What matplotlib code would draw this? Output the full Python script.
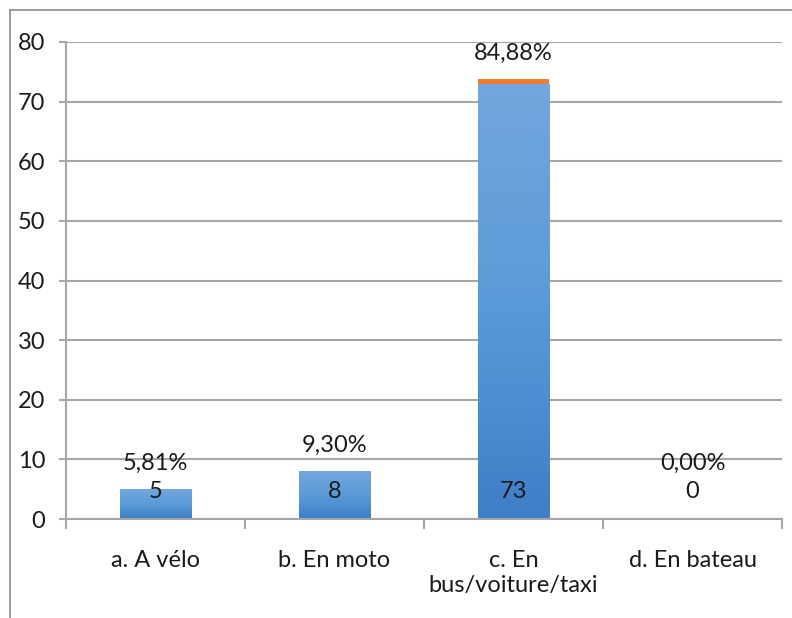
import matplotlib
matplotlib.use("Agg")
import matplotlib.pyplot as plt
import numpy as np
from matplotlib.lines import Line2D
from matplotlib.colors import LinearSegmentedColormap

categories = ["a. A vélo", "b. En moto", "c. En\nbus/voiture/taxi", "d. En bateau"]
counts = [5, 8, 73, 0]
shares = [0.0581, 0.0930, 0.8488, 0.0]
count_labels = ["5", "8", "73", "0"]
pct_labels = ["5,81%", "9,30%", "84,88%", "0,00%"]
yticks = [0, 10, 20, 30, 40, 50, 60, 70, 80]

plt.rcParams['font.family'] = ['Lato', 'DejaVu Sans']
FS = 17

fig = plt.figure(figsize=(7.92, 6.18), dpi=100)
ax = fig.add_axes([66/792, 1-519/618, (782-66)/792, (519-42)/618])

x = np.arange(len(categories))
width = 0.4
grid_c = '#A6A6A6'

bars = ax.bar(x, counts, width, color='#5B9BD5', zorder=2)
ax.bar(x, shares, width, bottom=counts, color='#ED7D31', zorder=3)

cmap = LinearSegmentedColormap.from_list('g', ['#3F7EC8', '#5B9AD8', '#73A7DD'])
grad = np.linspace(0, 1, 256).reshape(-1, 1)
for b in bars:
    h = b.get_height()
    if h <= 0:
        continue
    x0 = b.get_x()
    w = b.get_width()
    im = ax.imshow(grad, cmap=cmap, origin='lower', aspect='auto',
                   extent=[x0, x0 + w, 0, h], zorder=2.5)
    im.set_clip_path(b)

ax.set_xlim(-0.5, len(categories) - 0.5)
ax.set_ylim(0, 80)
ax.set_yticks(yticks)
ax.yaxis.grid(True, color=grid_c, linewidth=1.5, zorder=0)
ax.set_axisbelow(True)

for s in ['top', 'right']:
    ax.spines[s].set_visible(False)
for s in ['left', 'bottom']:
    ax.spines[s].set_color(grid_c)
    ax.spines[s].set_linewidth(1.5)

ax.set_xticks(x)
ax.set_xticklabels(categories, fontsize=FS, linespacing=1.25, color='#1a1a1a')
ax.tick_params(axis='x', length=0, pad=22)
ax.set_xticks(np.arange(-0.5, len(categories)), minor=True)
ax.tick_params(axis='x', which='minor', length=7, width=1.5, color=grid_c)
ax.tick_params(axis='y', length=5, width=1.5, color=grid_c, pad=10, labelsize=FS, labelcolor='#1a1a1a')

for i in range(len(categories)):
    ax.text(x[i], 4.6, count_labels[i], ha='center', va='center', fontsize=FS, color='#1a1a1a', zorder=5)
    top = max(counts[i] + shares[i], 5.0)
    ax.annotate(pct_labels[i], (x[i], top), xytext=(0, 11), textcoords='offset points',
                ha='center', va='bottom', fontsize=FS, color='#1a1a1a', zorder=5)

fig.add_artist(Line2D([10/792, 10/792], [0, 1-10/618], color='#8C8C8C', linewidth=1.2))
fig.add_artist(Line2D([10/792, 1], [1-10/618, 1-10/618], color='#8C8C8C', linewidth=1.2))

fig.savefig('out.png', dpi=100)
